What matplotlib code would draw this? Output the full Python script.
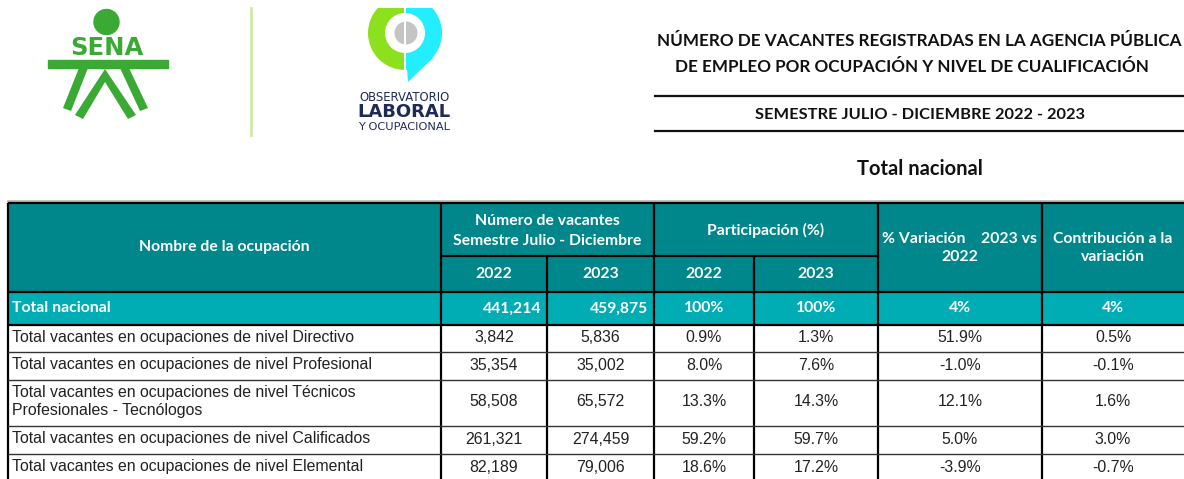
import matplotlib
matplotlib.use("Agg")
import matplotlib.pyplot as plt
from matplotlib.patches import Rectangle, Circle, Wedge, Polygon

# data
ocupaciones = [
    "Total vacantes en ocupaciones de nivel Directivo",
    "Total vacantes en ocupaciones de nivel Profesional",
    "Total vacantes en ocupaciones de nivel Técnicos\nProfesionales - Tecnólogos",
    "Total vacantes en ocupaciones de nivel Calificados",
    "Total vacantes en ocupaciones de nivel Elemental",
]
vac_2022 = [3842, 35354, 58508, 261321, 82189]
vac_2023 = [5836, 35002, 65572, 274459, 79006]
part_2022 = [0.9, 8.0, 13.3, 59.2, 18.6]
part_2023 = [1.3, 7.6, 14.3, 59.7, 17.2]
variacion = [51.9, -1.0, 12.1, 5.0, -3.9]
contribucion = [0.5, -0.1, 1.6, 3.0, -0.7]

total_label = "Total nacional"
total_vac = [441214, 459875]
total_part = [100, 100]
total_var = 4
total_contrib = 4

titulo = ["NÚMERO DE VACANTES REGISTRADAS EN LA AGENCIA PÚBLICA",
          "DE EMPLEO POR OCUPACIÓN Y NIVEL DE CUALIFICACIÓN"]
periodo = "SEMESTRE JULIO - DICIEMBRE 2022 - 2023"
subtitulo = "Total nacional"

W, H = 1184, 479
fig = plt.figure(figsize=(W / 100, H / 100), dpi=100)
ax = fig.add_axes([0, 0, 1, 1])
ax.set_xlim(0, W)
ax.set_ylim(H, 0)
ax.axis("off")

HEAD = "#00878B"
TOT = "#00ADB4"
hfont = dict(family="Lato", weight="bold", color="white", fontsize=11.3)
bfont = dict(family="Liberation Sans", color="#222222", fontsize=11.4)

# --- logos ---
green = "#3AAA35"
ax.add_patch(Circle((106.5, 22), 12.5, color=green))
ax.text(107, 48, "SENA", ha="center", va="center", fontsize=17.5,
        family="DejaVu Sans", weight="bold", color=green)
ax.add_patch(Rectangle((48, 60), 120, 7.5, color=green))
legs = [
    [(79, 68), (88, 68), (71, 111), (63, 108)],
    [(129, 68), (120, 68), (140, 111), (148, 108)],
    [(105, 69), (136, 115), (128, 119), (105, 82), (83, 119), (75, 115)],
]
for pts in legs:
    ax.add_patch(Polygon(pts, closed=True, color=green, lw=0))
ax.plot([251, 251], [8, 135], color="#CBEBA6", lw=2)

ax.add_patch(Wedge((405, 33), 37, 90, 270, color="#8CE01E", lw=0))
ax.add_patch(Wedge((405, 33), 37, 270, 450, color="#22EEFF", lw=0))
ax.add_patch(Polygon([(406, 55), (433, 58), (408, 82)], closed=True,
                     color="#22EEFF", lw=0))
ax.add_patch(Circle((405, 33), 20, color="white", lw=0))
ax.add_patch(Circle((406, 33), 11.5, color="#C4C4C4", lw=0))
ax.add_patch(Rectangle((403.5, 0), 2.5, 85, color="white", lw=0))
ax.add_patch(Rectangle((350, 0), 110, 8, color="white", lw=0, zorder=3))
navy = "#1E2B57"
ax.text(404, 97, "OBSERVATORIO", ha="center", va="center", fontsize=8.4,
        family="DejaVu Sans", color=navy)
ax.text(404, 112, "LABORAL", ha="center", va="center", fontsize=13,
        family="DejaVu Sans", weight="bold", color=navy)
ax.text(404, 127, "Y OCUPACIONAL", ha="center", va="center", fontsize=8.2,
        family="DejaVu Sans", color=navy)

# --- titles ---
tfont = dict(family="Lato", weight="bold", color="#111111")
ax.text(919, 41, titulo[0], ha="center", va="center", fontsize=12.3, **tfont)
ax.text(912, 67, titulo[1], ha="center", va="center", fontsize=12.3, **tfont)
ax.plot([655, W], [96, 96], color="#111111", lw=1.6)
ax.plot([655, W], [131, 131], color="#111111", lw=1.6)
ax.text(920, 115, periodo, ha="center", va="center", fontsize=11.8, **tfont)
ax.text(920, 169, subtitulo, ha="center", va="center", fontsize=14.5, **tfont)

# --- table geometry ---
xs = [8, 441, 547, 654, 754, 878, 1042, 1200]
y_head = [203, 256, 292]
y_rows = [292, 325, 352, 380, 426, 454, 482]

ax.plot([8, W], [200.5, 200.5], color="#BBBBBB", lw=2)

# header cells
ax.add_patch(Rectangle((xs[0], y_head[0]), xs[-1] - xs[0], y_head[2] - y_head[0],
                       facecolor=HEAD, edgecolor="none"))
# total row
ax.add_patch(Rectangle((xs[0], y_rows[0]), xs[-1] - xs[0], y_rows[1] - y_rows[0],
                       facecolor=TOT, edgecolor="none"))

blk = dict(color="black", lw=1.6, solid_capstyle="butt")
# horizontal header lines
ax.plot([xs[0], xs[-1]], [y_head[0], y_head[0]], **blk)
ax.plot([xs[1], xs[5]], [y_head[1], y_head[1]], **blk)
ax.plot([xs[0], xs[-1]], [y_head[2], y_head[2]], **blk)
ax.plot([xs[0], xs[-1]], [y_rows[1], y_rows[1]], **blk)
# vertical lines
for i, x in enumerate(xs[:-1]):
    if i in (2, 4):
        ax.plot([x, x], [y_head[1], H], **blk)
    else:
        ax.plot([x, x], [y_head[0], H], **blk)
# body horizontal lines
for y in y_rows[2:-1]:
    ax.plot([xs[0], xs[-1]], [y, y], color="#333333", lw=1.0)

# header text
ax.text((xs[0] + xs[1]) / 2, 247, "Nombre de la ocupación", ha="center", va="center", **hfont)
ax.text((xs[1] + xs[3]) / 2, 231, "Número de vacantes\nSemestre Julio - Diciembre",
        ha="center", va="center", linespacing=1.5, **hfont)
ax.text((xs[3] + xs[5]) / 2, 230, "Participación (%)", ha="center", va="center", **hfont)
for a, b, yr in [(1, 2, "2022"), (2, 3, "2023"), (3, 4, "2022"), (4, 5, "2023")]:
    ax.text((xs[a] + xs[b]) / 2, 274, yr, ha="center", va="center", **hfont)
ax.text(960, 248, "% Variación    2023 vs\n2022", ha="center", va="center",
        linespacing=1.45, **hfont)
ax.text(1113, 248, "Contribución a la\nvariación", ha="center", va="center",
        linespacing=1.45, **hfont)

# total row text
yc = (y_rows[0] + y_rows[1]) / 2
ax.text(12, yc, total_label, ha="left", va="center", **hfont)
ax.text(xs[2] - 6, yc, f"{total_vac[0]:,}", ha="right", va="center", **hfont)
ax.text(xs[3] - 6, yc, f"{total_vac[1]:,}", ha="right", va="center", **hfont)
ax.text((xs[3] + xs[4]) / 2, yc, f"{total_part[0]}%", ha="center", va="center", **hfont)
ax.text((xs[4] + xs[5]) / 2, yc, f"{total_part[1]}%", ha="center", va="center", **hfont)
ax.text((xs[5] + xs[6]) / 2, yc, f"{total_var}%", ha="center", va="center", **hfont)
ax.text(1113, yc, f"{total_contrib}%", ha="center", va="center", **hfont)

# body rows
for i, nombre in enumerate(ocupaciones):
    yc = (y_rows[i + 1] + y_rows[i + 2]) / 2 - 1
    ax.text(12, yc, nombre, ha="left", va="center", linespacing=1.25, **bfont)
    vals = [f"{vac_2022[i]:,}", f"{vac_2023[i]:,}", f"{part_2022[i]:.1f}%",
            f"{part_2023[i]:.1f}%", f"{variacion[i]:.1f}%"]
    for j, v in enumerate(vals):
        ax.text((xs[j + 1] + xs[j + 2]) / 2, yc, v, ha="center", va="center", **bfont)
    ax.text(1113, yc, f"{contribucion[i]:.1f}%", ha="center", va="center", **bfont)

fig.savefig("out.png", dpi=100)
